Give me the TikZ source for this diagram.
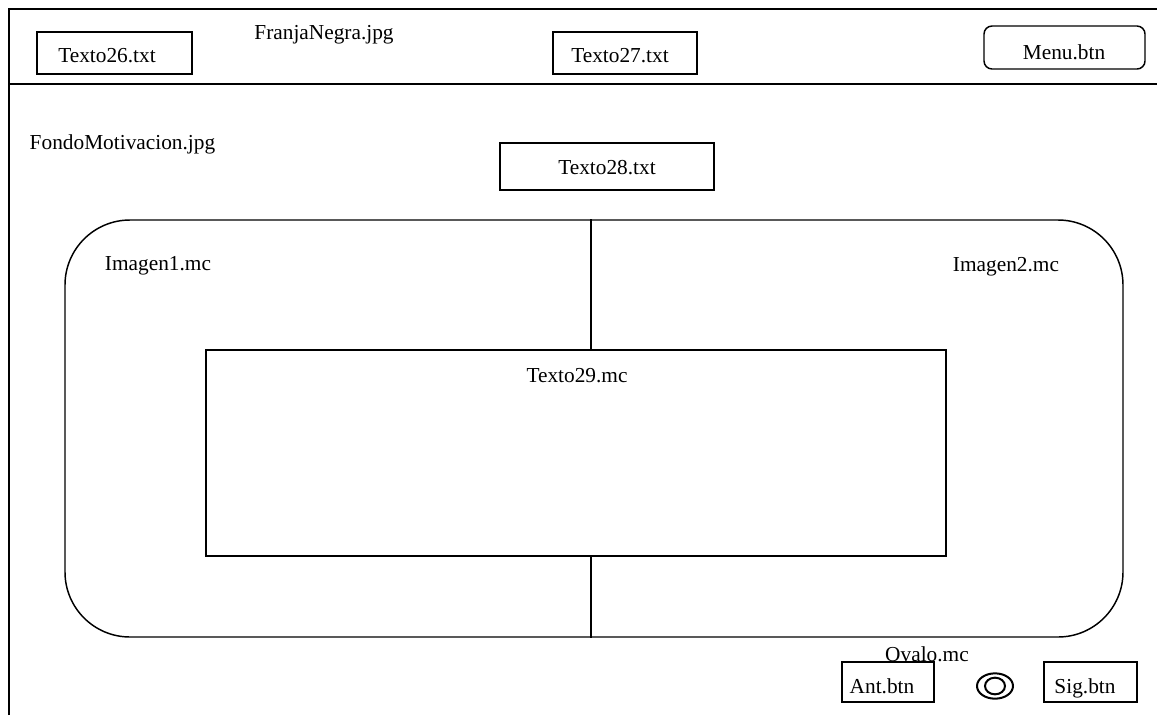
\documentclass[tikz,border=0pt]{standalone}
\usepackage{fontspec}
\setmainfont{Liberation Serif}
\usetikzlibrary{fit,calc,shapes.geometric}
\begin{document}
\begin{tikzpicture}[x=0.75pt, y=-0.75pt, line width=1.1pt,
  txt/.style={font=\fontsize{16}{19}\selectfont, inner sep=0pt, anchor=base},
  frame/.style={draw, fill=white, inner sep=0pt},
  btn/.style={frame, rounded corners=6pt},
  panel/.style={frame, rounded corners=48.75pt},
  ring/.style={draw, ellipse, inner sep=0pt, line width=1.5pt}]
\useasboundingbox (0,0) rectangle (1157,715);
\fill[white] (0,0) rectangle (1157,715);

% screen border and title strip
\draw (9,715) -- (9,9) -- (1157,9);
\draw (9,84) -- (1157,84);

\node[frame, fit={(37,32) (192,74)}] (t26box) {};
\node[txt] (t26) at (107,62) {Texto26.txt};
\node[txt] (franja) at (324,39) {FranjaNegra.jpg};
\node[frame, fit={(553,32) (697,74)}] (t27box) {};
\node[txt] (t27) at (620,62) {Texto27.txt};
\node[btn, fit={(984,26) (1145,69)}] (menubox) {};
\node[txt] (menu) at (1064,59) {Menu.btn};

% content area
\node[txt, anchor=base west] (fondo) at (29,149) {FondoMotivacion.jpg};
\node[frame, fit={(500,143) (714,190)}] (t28box) {};
\node[txt] (t28) at (607,174) {Texto28.txt};

\node[panel, fit={(65,220) (1123,637)}] (panel) {};
\node[frame, fit={(206,350) (946,556)}] (t29box) {};
\coordinate (split) at (591,0);
\draw (split |- panel.north) -- (split |- t29box.north);
\draw (split |- t29box.south) -- (split |- panel.south);

\node[txt] (img1) at (158,270) {Imagen1.mc};
\node[txt] (img2) at (1006,271) {Imagen2.mc};
\node[txt] (t29) at (577,382) {Texto29.mc};

% navigation controls
\node[txt] (ovalo) at (927,661) {Ovalo.mc};
\node[frame, fit={(842,662) (934,702)}] (antbox) {};
\node[txt] (ant) at (882,693) {Ant.btn};
\node[ring, minimum width=27pt, minimum height=19pt] (ovalout) at (995,686) {};
\node[ring, minimum width=15pt, minimum height=12.5pt] (ovalin) at (995,686) {};
\node[frame, fit={(1044,662) (1137,702)}] (sigbox) {};
\node[txt] (sig) at (1085,693) {Sig.btn};
\end{tikzpicture}
\end{document}
